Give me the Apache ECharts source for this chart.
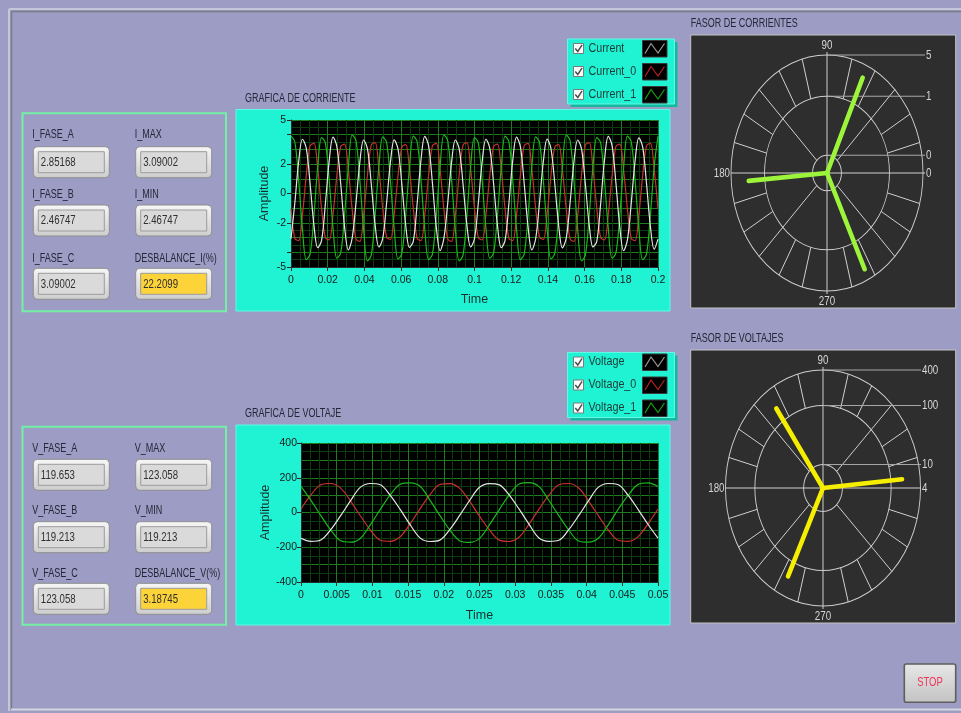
<!DOCTYPE html>
<html>
<head>
<meta charset="utf-8">
<title>Panel</title>
<script src="https://cdn.jsdelivr.net/npm/echarts@6.0.0/dist/echarts.min.js"></script>
<style>
html,body{margin:0;padding:0;background:#9c9cc5;overflow:hidden}
#chart{width:961px;height:713px}
</style>
</head>
<body>
<div id="chart"></div>
<script>
// ---------------- DATA ----------------
const currentDt = 1 / 480;           // sample step (s) of current waveforms
const voltageDt = 0.05 / 36;         // sample step (s) of voltage waveforms

const currentA = [
 -3.07,-0.65,2.15,3.69,3.07,0.65,-2.15,-3.69,
 -3.19,-0.68,2.24,3.84,3.19,0.68,-2.24,-3.84,
 -3.03,-0.64,2.12,3.64,3.03,0.64,-2.12,-3.64,
 -3.05,-0.66,2.10,3.65,3.02,0.62,-2.14,-3.66,
 -3.24,-0.69,2.27,3.89,3.24,0.69,-2.27,-3.89,
 -3.03,-0.64,2.12,3.64,3.03,0.64,-2.12,-3.64,
 -3.07,-0.65,2.15,3.69,3.07,0.65,-2.15,-3.69,
 -3.19,-0.68,2.24,3.84,3.19,0.68,-2.24,-3.84,
 -3.08,-0.63,2.16,3.70,3.06,0.66,-2.14,-3.70,
 -3.03,-0.64,2.12,3.64,3.03,0.64,-2.12,-3.64,
 -3.24,-0.69,2.27,3.89,3.24,0.69,-2.27,-3.89,
 -3.15,-0.67,2.21,3.79,3.15,0.67,-2.21,-3.79,
 -3.10
];
const currentB = [
 -1.04,-3.05,-3.21,-1.43,1.24,3.25,3.41,1.63,
 -1.02,-3.00,-3.16,-1.41,1.22,3.20,3.36,1.61,
 -1.06,-3.09,-3.26,-1.45,1.26,3.29,3.46,1.65,
 -1.01,-2.96,-3.12,-1.39,1.21,3.16,3.32,1.59,
 -1.04,-3.05,-3.21,-1.43,1.24,3.25,3.41,1.63,
 -1.06,-3.09,-3.26,-1.45,1.26,3.29,3.46,1.65,
 -1.02,-3.00,-3.16,-1.41,1.22,3.20,3.36,1.61,
 -1.04,-3.05,-3.21,-1.43,1.24,3.25,3.41,1.63,
 -1.01,-2.96,-3.12,-1.39,1.21,3.16,3.32,1.59,
 -1.06,-3.09,-3.26,-1.45,1.26,3.29,3.46,1.65,
 -1.02,-3.00,-3.16,-1.41,1.22,3.20,3.36,1.61,
 -1.04,-3.05,-3.21,-1.43,1.24,3.25,3.41,1.63,
 -1.04
];
const currentC = [
 3.90,3.52,0.91,-2.42,-4.50,-4.12,-1.51,1.82,
 3.80,3.44,0.88,-2.37,-4.40,-4.04,-1.48,1.77,
 3.98,3.59,0.93,-2.46,-4.58,-4.19,-1.53,1.86,
 3.85,3.48,0.89,-2.40,-4.45,-4.08,-1.49,1.80,
 3.90,3.52,0.91,-2.42,-4.50,-4.12,-1.51,1.82,
 3.98,3.59,0.93,-2.46,-4.58,-4.19,-1.53,1.86,
 3.80,3.44,0.88,-2.37,-4.40,-4.04,-1.48,1.77,
 3.90,3.52,0.91,-2.42,-4.50,-4.12,-1.51,1.82,
 3.85,3.48,0.89,-2.40,-4.45,-4.08,-1.49,1.80,
 3.98,3.59,0.93,-2.46,-4.58,-4.19,-1.53,1.86,
 3.80,3.44,0.88,-2.37,-4.40,-4.04,-1.48,1.77,
 3.90,3.52,0.91,-2.42,-4.50,-4.12,-1.51,1.82,
 3.90
];
const voltageA = [
 -148,-166,-158,-99,-18,68,146,167,160,99,18,-70,
 -146,-167,-159,-98,-17,69,145,166,159,100,19,-68,
 -147,-166,-160,-99,-18,68,146,167,160,98,17,-69,
 -148
];
const voltageB = [
 20,101,160,167,140,66,-20,-101,-160,-166,-140,-66,
 21,102,161,166,139,65,-21,-100,-159,-167,-141,-67,
 19,100,160,167,141,66,-19,-102,-160,-166,-139,-65,
 20
];
const voltageC = [
 150,70,-18,-101,-163,-171,-148,-70,18,101,163,171,
 151,71,-17,-100,-162,-172,-149,-71,17,102,164,172,
 149,69,-18,-101,-164,-171,-147,-70,19,100,162,171,
 150
];

const currentNames = ['Current', 'Current_0', 'Current_1'];
const voltageNames = ['Voltage', 'Voltage_0', 'Voltage_1'];

const currentYLabels = [-5, -2, 0, 2, 5];
const currentYTicks = [-5, -4, -2, 0, 2, 4, 5];
const voltageYLabels = [-400, -200, 0, 200, 400];

// phasors (magnitude on log radial scale, angle in degrees)
const currentPhasorMag = [3.01, 2.16, 3.23];
const currentPhasorAng = [65.3, 184.7, 295.7];
const currentPhasorRings = [0.1, 1, 5];
const currentPhasorMin = 0.05;
const voltagePhasorMag = [180, 170, 183];
const voltagePhasorAng = [125.4, 5.2, 244.4];
const voltagePhasorRings = [10, 100, 400];
const voltagePhasorMin = 4;

// indicators
const currentIndLabels = [['I_FASE_A','I_MAX'],['I_FASE_B','I_MIN'],['I_FASE_C','DESBALANCE_I(%)']];
const currentIndValues = [['2.85168','3.09002'],['2.46747','2.46747'],['3.09002','22.2099']];
const voltageIndLabels = [['V_FASE_A','V_MAX'],['V_FASE_B','V_MIN'],['V_FASE_C','DESBALANCE_V(%)']];
const voltageIndValues = [['119.653','123.058'],['119.213','119.213'],['123.058','3.18745']];

// ---------------- STYLE / LAYOUT ----------------
const FONT = "'Liberation Sans Narrow','Arial Narrow','Liberation Sans',Arial,sans-serif";
const LAV = '#9c9cc5';
const CYAN = '#20f2d4';
const CYAN_DARK = '#14b89e';
const MAJOR = '#1f7d1f';
const MINOR = '#0c3d0c';
const WAVE_COLORS = ['#e6e6e6', '#cc3030', '#1cb81c'];
const SWATCH_COLORS = ['#9a9a9a', '#b82222', '#12a612'];
const PH_CUR = '#9cf53a';
const PH_VOL = '#f6ee00';

const G_CUR = {left: 291, top: 120, width: 367, height: 147};
const G_VOL = {left: 301, top: 443, width: 357, height: 139};
const PC = {cx: 827, cy: 173, rx: 96, ry: 118, lineEnd: 925, labelX: 926};
const PV = {cx: 823, cy: 488, rx: 97.5, ry: 118, lineEnd: 921, labelX: 922};

const g = [];
function rect(x, y, w, h, style, z, r) {
  g.push({type: 'rect', shape: {x, y, width: w, height: h, r: r || 0}, style, silent: true, z: z == null ? -10 : z});
}
function line(x1, y1, x2, y2, color, w, z) {
  g.push({type: 'line', shape: {x1, y1, x2, y2}, style: {stroke: color, lineWidth: w || 1}, silent: true, z: z == null ? -4 : z});
}
function text(x, y, str, o) {
  o = o || {};
  g.push({type: 'text', x, y, scaleX: o.sx || 0.72, silent: true, z: o.z == null ? 6 : o.z,
    style: {text: str, fill: o.color || '#262636', font: (o.size || 12.5) + 'px ' + FONT,
      textAlign: o.align || 'left', textVerticalAlign: 'middle', align: o.align || 'left', verticalAlign: 'middle'}});
}

// window background and frame
rect(0, 0, 961, 713, {fill: LAV}, -20);
line(9, 9, 961, 9, '#c6c6da', 2, -15);
line(9, 9, 9, 711, '#c6c6da', 2, -15);
line(11.5, 11.5, 961, 11.5, '#7c7c84', 1.5, -14);
line(11.5, 11.5, 11.5, 709, '#7c7c84', 1.5, -14);
line(11, 709.5, 961, 709.5, '#d6d6e0', 2, -14);

// indicator panels
function indicator(x, y, val, yellow) {
  const w = 76, h = 31;
  rect(x, y, w, h, {fill: {type: 'linear', x: 0, y: 0, x2: 0, y2: 1, colorStops: [{offset: 0, color: '#f7f7f7'}, {offset: 1, color: '#cdcdcd'}]}, stroke: '#8e8e8e', lineWidth: 1}, -8, 4);
  rect(x + 5, y + 5, w - 10, h - 10, {fill: yellow ? '#fdd33a' : '#dadada', stroke: '#9c9c9c', lineWidth: 1}, -7);
  text(x + 7.5, y + h / 2 + 0.5, val, {size: 12.5, color: '#303030', sx: 0.77});
}
function indPanel(top, labelYs, boxYs, labels, values) {
  rect(22.5, top, 203.5, 198, {fill: null, stroke: '#74f0a6', lineWidth: 2}, -9);
  const cols = [33.3, 135.7];
  for (let r = 0; r < 3; r++) {
    for (let c = 0; c < 2; c++) {
      text(cols[c] - 1, labelYs[r], labels[r][c], {size: 12.5, sx: 0.72});
      indicator(cols[c], boxYs[r], values[r][c], r === 2 && c === 1);
    }
  }
}
indPanel(113.3, [134.3, 194.3, 258.3], [146.7, 205, 268.3], currentIndLabels, currentIndValues);
indPanel(426.7, [448.3, 510.7, 573.3], [459.3, 521.7, 583.3], voltageIndLabels, voltageIndValues);

// chart panels
text(245, 98.3, 'GRAFICA DE CORRIENTE');
text(245, 413.3, 'GRAFICA DE VOLTAJE');
rect(236, 109.5, 434, 201.5, {fill: CYAN, stroke: '#5ff8e2', lineWidth: 1}, -12);
rect(236, 425, 434, 200, {fill: CYAN, stroke: '#5ff8e2', lineWidth: 1}, -12);
rect(G_CUR.left, G_CUR.top, G_CUR.width, G_CUR.height, {fill: '#000'}, -6);
rect(G_VOL.left, G_VOL.top, G_VOL.width, G_VOL.height, {fill: '#000'}, -6);

// legends
function legendBox(x, y, names) {
  rect(x + 3, y + 3, 107, 65, {fill: CYAN_DARK}, -12);
  rect(x, y, 107, 65, {fill: CYAN, stroke: '#62f8e4', lineWidth: 1}, -11);
  names.forEach((n, i) => {
    const cy = y + 9.5 + i * 23;
    rect(x + 6, cy - 5, 10, 10, {fill: '#fbfbfb', stroke: '#7a7a7a', lineWidth: 1}, -9);
    g.push({type: 'polyline', shape: {points: [[x + 7.8, cy], [x + 10.3, cy + 3], [x + 14.6, cy - 3.6]]}, style: {stroke: '#4a4a4a', lineWidth: 1.4, fill: null}, silent: true, z: -8});
    text(x + 21, cy, n, {size: 12.5, color: '#1f3a34', sx: 0.86});
    rect(x + 75, cy - 8, 24.5, 16.5, {fill: '#000', stroke: '#3a3a3a', lineWidth: 1}, -9);
    g.push({type: 'polyline', shape: {points: [[x + 77.5, cy + 5], [x + 83.5, cy - 5], [x + 90.5, cy + 4.5], [x + 97, cy - 5]]}, style: {stroke: SWATCH_COLORS[i], lineWidth: 1.2, fill: null}, silent: true, z: -8});
  });
}
legendBox(567.5, 39, currentNames);
legendBox(567.5, 352.5, voltageNames);

// phasor panels
text(690.7, 24, 'FASOR DE CORRIENTES');
text(690.7, 339, 'FASOR DE VOLTAJES');
rect(690.7, 35, 265, 273, {fill: '#2e2e2e', stroke: '#c4c4c4', lineWidth: 1}, -12);
rect(690.7, 350, 265, 273, {fill: '#2e2e2e', stroke: '#c4c4c4', lineWidth: 1}, -12);

function fmtRing(v) { return String(Math.round(v)); }
function phasorDeco(P, ringVals, minVal) {
  const {cx, cy, rx, ry, lineEnd, labelX} = P;
  const C = '#cfcfcf';
  const LC = '#d6d6d6';
  const span = Math.log10(ringVals[ringVals.length - 1] / minVal);
  const rings = ringVals.map(v => Math.log10(v / minVal) / span);
  const pt = (r, a) => [cx + r * rx * Math.cos(a * Math.PI / 180), cy - r * ry * Math.sin(a * Math.PI / 180)];
  rings.forEach(r => g.push({type: 'circle', x: cx, y: cy, scaleX: rx / ry, shape: {cx: 0, cy: 0, r: r * ry},
    style: {fill: null, stroke: C, lineWidth: 1.1, strokeNoScale: true}, silent: true, z: -4}));
  for (let a = 15; a < 360; a += 15) {
    if (a % 90 === 0) continue;
    const r0 = a % 45 === 0 ? rings[0] : rings[1];
    const p1 = pt(r0, a), p2 = pt(1, a);
    line(p1[0], p1[1], p2[0], p2[1], C, 1, -4);
  }
  line(cx - rx, cy, lineEnd, cy, C, 1, -4);
  line(cx, cy - ry - 3, cx, cy + ry + 3, C, 1, -4);
  rings.forEach((r, i) => {
    const y = cy - r * ry;
    line(cx, y, lineEnd, y, '#a8a8a8', 1, -4);
    text(labelX, y, fmtRing(ringVals[i]), {color: LC, size: 13, sx: 0.75});
  });
  text(labelX, cy, fmtRing(minVal), {color: LC, size: 13, sx: 0.75});
  text(cx, cy - ry - 10, '90', {color: LC, size: 13, align: 'center', sx: 0.75});
  text(cx, cy + ry + 10.5, '270', {color: LC, size: 13, align: 'center', sx: 0.75});
  text(cx - rx - 1, cy, '180', {color: LC, size: 13, align: 'right', sx: 0.75});
}
phasorDeco(PC, currentPhasorRings, currentPhasorMin);
phasorDeco(PV, voltagePhasorRings, voltagePhasorMin);

// STOP button
rect(904.3, 664, 51.4, 38.3, {fill: {type: 'linear', x: 0, y: 0, x2: 0, y2: 1, colorStops: [{offset: 0, color: '#e8e8e8'}, {offset: 1, color: '#c2c2c2'}]}, stroke: '#5e5e5e', lineWidth: 1.6}, -8, 2);
text(930, 683, 'STOP', {color: '#f03456', size: 12.5, align: 'center', sx: 0.76});

// ---------------- CHART ----------------
function wave(vals, dt) { return vals.map((v, i) => [+(i * dt).toFixed(7), v]); }
const axisText = {color: '#1a1a1a', fontSize: 10.5, fontFamily: FONT};
const nameText = {color: '#17302c', fontSize: 12.5, fontFamily: FONT};

function timeAxis(gi, max, interval, gap) {
  return {gridIndex: gi, type: 'value', min: 0, max, interval,
    name: 'Time', nameLocation: 'middle', nameGap: gap, nameTextStyle: nameText,
    axisLine: {show: true, onZero: false, lineStyle: {color: '#2a2a2a', width: 1}},
    axisTick: {show: true, length: 4, lineStyle: {color: '#2a2a2a'}},
    axisLabel: Object.assign({margin: 8, formatter: v => String(+v.toFixed(4))}, axisText),
    splitLine: {show: true, lineStyle: {color: MAJOR, width: 1}},
    minorTick: {show: false, splitNumber: 4},
    minorSplitLine: {show: true, lineStyle: {color: MINOR, width: 1}}};
}
function gridYAxis(gi, min, max, interval) {
  return {gridIndex: gi, type: 'value', min, max, interval,
    axisLine: {show: false}, axisTick: {show: false}, axisLabel: {show: false},
    splitLine: {show: true, lineStyle: {color: MAJOR, width: 1}},
    minorTick: {show: false, splitNumber: 2},
    minorSplitLine: {show: true, lineStyle: {color: MINOR, width: 1}}};
}
function labelYAxis(gi, min, max, labels, ticks, gap, margin) {
  return {gridIndex: gi, type: 'value', min, max, position: 'left',
    name: 'Amplitude', nameLocation: 'middle', nameGap: gap, nameRotate: 90, nameTextStyle: nameText,
    axisLine: {show: true, onZero: false, lineStyle: {color: '#2a2a2a', width: 1}},
    axisTick: {show: true, length: 4, customValues: ticks, lineStyle: {color: '#2a2a2a'}},
    axisLabel: Object.assign({margin, customValues: labels}, axisText),
    splitLine: {show: false}};
}
function hiddenAxis(gi) { return {gridIndex: gi, type: 'value', min: -1, max: 1, show: false, splitLine: {show: false}}; }

function waveSeries(names, arrays, dt, xi, yi) {
  return arrays.map((arr, i) => ({type: 'line', name: names[i], xAxisIndex: xi, yAxisIndex: yi,
    data: wave(arr, dt), showSymbol: false, symbol: 'none', smooth: 0.35, silent: true,
    lineStyle: {color: WAVE_COLORS[i], width: 1.2}, itemStyle: {color: WAVE_COLORS[i]}, z: 3 + (i === 0 ? 1 : 0)}));
}
function phasorSeries(mags, angs, ringVals, minVal, xi, yi, color) {
  const span = Math.log10(ringVals[ringVals.length - 1] / minVal);
  return mags.map((m, i) => {
    const r = Math.log10(m / minVal) / span;
    const a = angs[i] * Math.PI / 180;
    return {type: 'line', xAxisIndex: xi, yAxisIndex: yi, data: [[0, 0], [r * Math.cos(a), r * Math.sin(a)]],
      showSymbol: false, symbol: 'none', silent: true, lineStyle: {color, width: 4.6, cap: 'round'}, z: 5};
  });
}

const chart = echarts.init(document.getElementById('chart'), null, {renderer: 'canvas'});
chart.setOption({
  animation: false,
  backgroundColor: LAV,
  textStyle: {fontFamily: FONT},
  graphic: {elements: g},
  grid: [
    Object.assign({show: false, containLabel: false}, G_CUR),
    Object.assign({show: false, containLabel: false}, G_VOL),
    {show: false, left: PC.cx - PC.rx, top: PC.cy - PC.ry, width: PC.rx * 2, height: PC.ry * 2},
    {show: false, left: PV.cx - PV.rx, top: PV.cy - PV.ry, width: PV.rx * 2, height: PV.ry * 2}
  ],
  xAxis: [
    timeAxis(0, 0.2, 0.02, 26),
    timeAxis(1, 0.05, 0.005, 27),
    hiddenAxis(2),
    hiddenAxis(3)
  ],
  yAxis: [
    gridYAxis(0, -5, 5, 1),
    labelYAxis(0, -5, 5, currentYLabels, currentYTicks, 20, 5),
    gridYAxis(1, -400, 400, 100),
    labelYAxis(1, -400, 400, voltageYLabels, voltageYLabels, 29, 4),
    hiddenAxis(2),
    hiddenAxis(3)
  ],
  series: [].concat(
    waveSeries(currentNames, [currentA, currentB, currentC], currentDt, 0, 0),
    waveSeries(voltageNames, [voltageA, voltageB, voltageC], voltageDt, 1, 2),
    phasorSeries(currentPhasorMag, currentPhasorAng, currentPhasorRings, currentPhasorMin, 2, 4, PH_CUR),
    phasorSeries(voltagePhasorMag, voltagePhasorAng, voltagePhasorRings, voltagePhasorMin, 3, 5, PH_VOL)
  )
});
</script>
</body>
</html>
